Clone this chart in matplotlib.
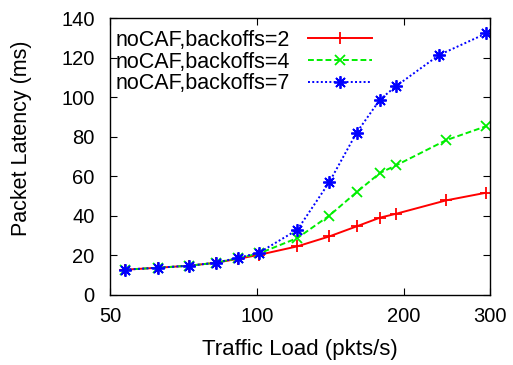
import matplotlib
matplotlib.use("Agg")
import matplotlib.pyplot as plt
from matplotlib.ticker import FixedLocator, NullLocator

plt.rcParams['font.family'] = ['Liberation Sans', 'DejaVu Sans']

# traffic load (pkts/s)
load = [53.7, 62.8, 72.6, 82.4, 91.5, 101, 121, 140.6, 160, 178.6, 193, 243.7, 294.6]
load_b7 = [53.7, 62.8, 72.6, 82.4, 91.5, 101, 121, 140.6, 160, 178.6, 193, 236, 294.6]

# packet latency (ms)
lat_b2 = [12.8, 13.8, 14.8, 16.3, 18.3, 20.3, 24.6, 29.6, 34.7, 39.1, 41.1, 47.8, 51.7]
lat_b4 = [12.8, 13.8, 14.8, 16.3, 18.6, 21.0, 28.8, 40.1, 52.0, 61.7, 65.6, 78.2, 85.3]
lat_b7 = [12.8, 13.8, 14.8, 16.3, 18.8, 21.4, 33.0, 57.0, 82.1, 98.8, 105.7, 121.3, 132.2]

labels = ["noCAF,backoffs=2", "noCAF,backoffs=4", "noCAF,backoffs=7"]
xticks = [50, 100, 200, 300]
yticks = [0, 20, 40, 60, 80, 100, 120, 140]

fig = plt.figure(figsize=(5.13, 3.65), dpi=100)
ax = fig.add_axes([110/513, 1-295/365, 380/513, 277/365])

ax.plot(load, lat_b2, color='#ff0000', lw=1.4, ls='-', marker='+', ms=9, mew=1.3, label=labels[0])
ax.plot(load, lat_b4, color='#00ee00', lw=1.4, ls=(0, (3, 1.5)), marker='x', ms=7.5, mew=1.3, label=labels[1])
ax.plot(load_b7, lat_b7, color='#0000ff', lw=1.4, ls=(0, (1, 1.2)), marker=(8, 2, 0), ms=9, mew=1.3, label=labels[2])

ax.set_xscale('log')
ax.set_xlim(50, 300)
ax.set_ylim(0, 140)
ax.xaxis.set_major_locator(FixedLocator(xticks))
ax.xaxis.set_minor_locator(NullLocator())
ax.set_xticklabels([str(t) for t in xticks])
ax.set_yticks(yticks)
ax.tick_params(direction='in', length=5, width=0.8, top=True, right=True, labelsize=14.5)
ax.tick_params(axis='x', pad=9)
ax.tick_params(axis='y', pad=11)
for s in ax.spines.values():
    s.set_linewidth(1.0)

ax.set_xlabel("Traffic Load (pkts/s)", fontsize=16)
ax.set_ylabel("Packet Latency (ms)", fontsize=15.5)
ax.xaxis.set_label_coords(0.5, -0.16)
ax.yaxis.set_label_coords(-0.205, 0.567)

ax.legend(loc='upper left', bbox_to_anchor=(116/513, 1-30/365), bbox_transform=fig.transFigure,
          frameon=False, markerfirst=False, fontsize=15.5, handlelength=3.0, handletextpad=0.8,
          labelspacing=0.03, borderpad=0, borderaxespad=0)

fig.savefig("out.png", dpi=100)
